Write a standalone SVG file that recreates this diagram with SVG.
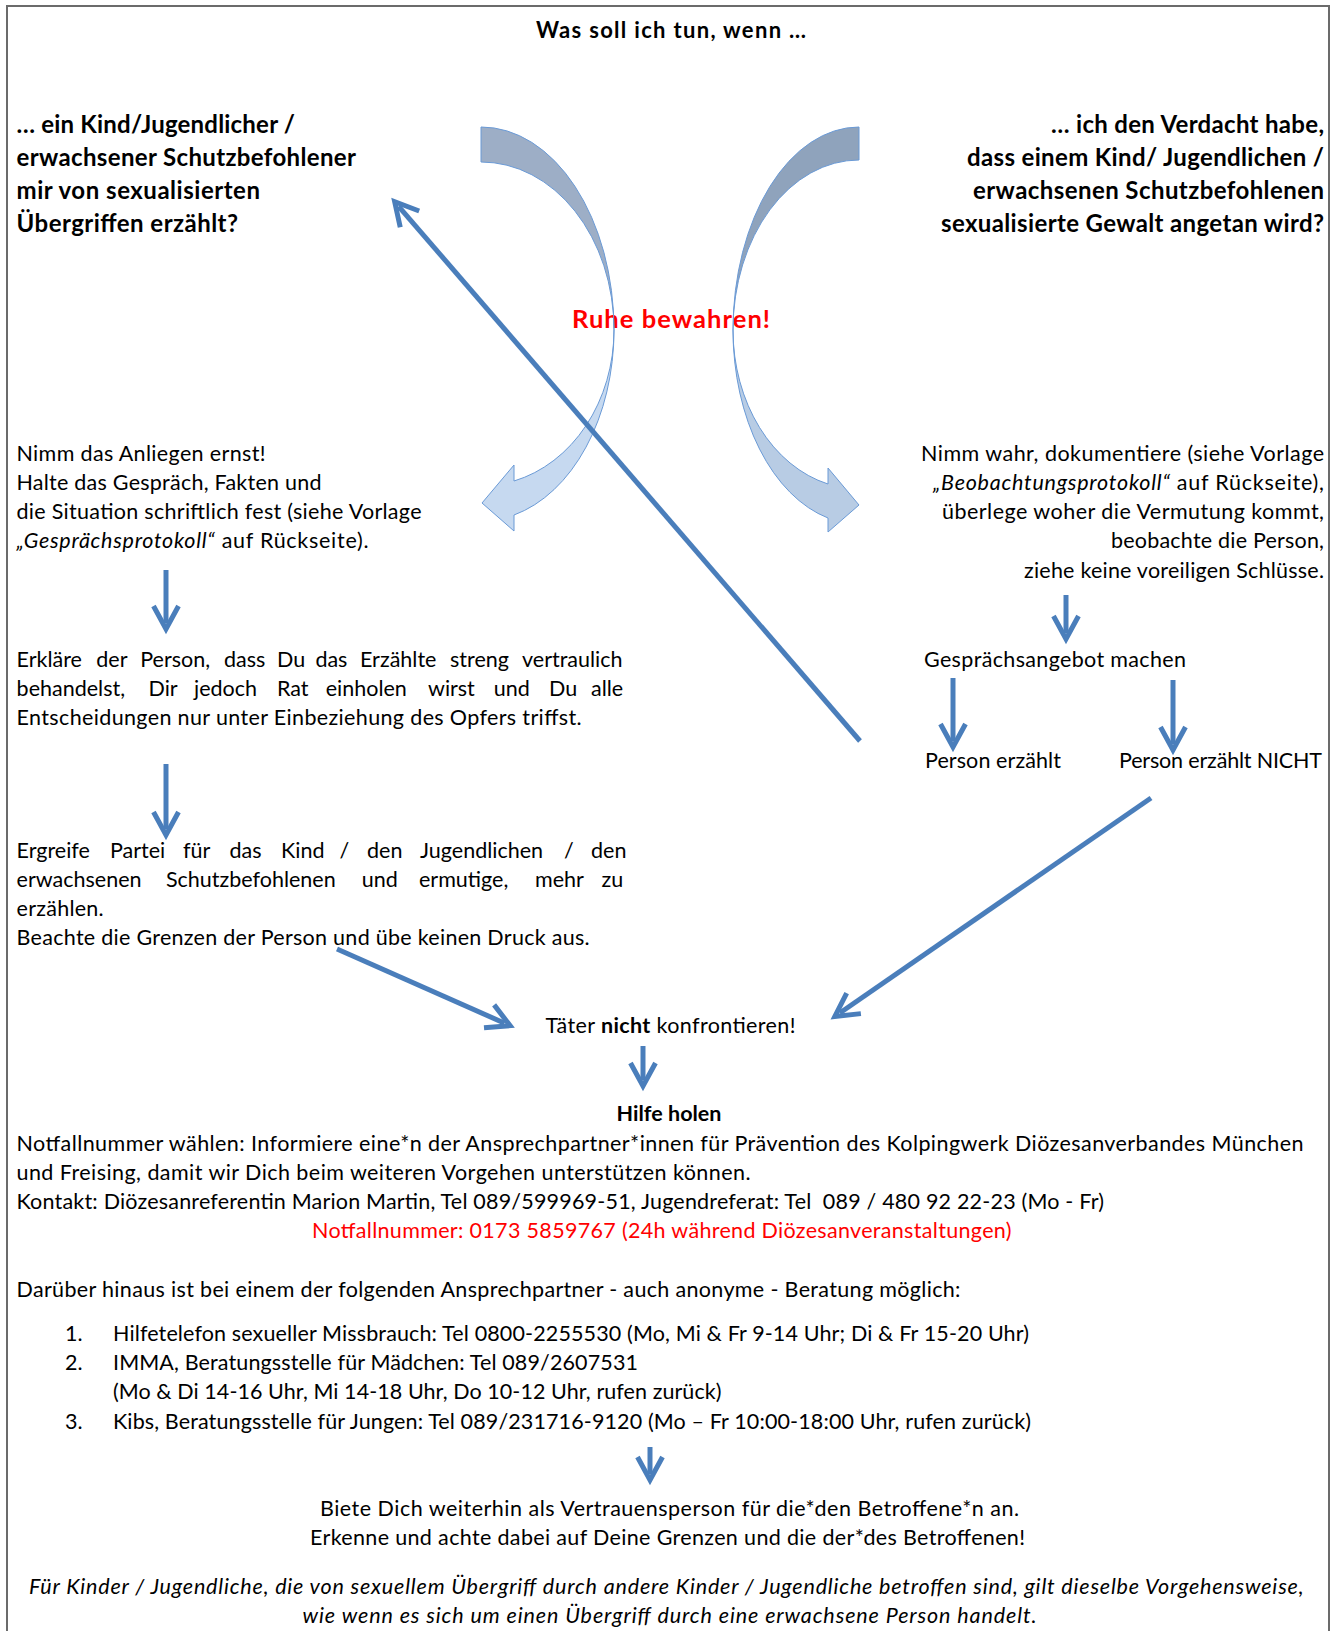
<svg xmlns="http://www.w3.org/2000/svg" width="1335" height="1631" viewBox="0 0 1335 1631">
<defs>
<style>
text{font-family:Lato,"Liberation Sans",sans-serif;font-size:21.5px;fill:#000}
.h{font-weight:700;font-size:24px}
.ti{font-weight:700;font-size:22px}
.bd{font-weight:700}
.red{fill:#FF0000}
.ruhe{font-weight:700;font-size:25.5px;fill:#FF0000}
.i{font-style:italic}
.con{stroke:#4A7EBB;stroke-width:5;fill:none;marker-end:url(#ah)}
.cuL1{fill:#9DAEC6;stroke:#6A9AD6;stroke-width:1}
.cuL2{fill:#C6D9F0;stroke:#6A9AD6;stroke-width:1}
.cuR1{fill:#8FA3BC;stroke:#6A9AD6;stroke-width:1}
.cuR2{fill:#B8CCE4;stroke:#6A9AD6;stroke-width:1}
</style>
<marker id="ah" markerUnits="userSpaceOnUse" viewBox="-30 -16 40 32" markerWidth="40" markerHeight="32" refX="-6" refY="0" orient="auto" style="overflow:visible">
<path d="M-23,-12.5 L0,0 L-23,12.5" fill="none" stroke="#4A7EBB" stroke-width="5"/>
</marker>
</defs>
<rect x="7" y="6" width="1322" height="1660" fill="#fff" stroke="#6b6b6b" stroke-width="2"/>

<g id="title"><text class="ti" x="536" y="38" textLength="270">Was soll ich tun, wenn …</text></g>

<g id="q-left">
<text class="h" x="16.5" y="133" textLength="278.5">… ein Kind/Jugendlicher /</text>
<text class="h" x="16.5" y="166" textLength="339.5">erwachsener Schutzbefohlener</text>
<text class="h" x="16.5" y="199" textLength="243.5">mir von sexualisierten</text>
<text class="h" x="16.5" y="232" textLength="221.5">Übergriffen erzählt?</text>
</g>

<g id="q-right">
<text class="h" x="1051" y="133" textLength="273">… ich den Verdacht habe,</text>
<text class="h" x="967" y="166" textLength="357">dass einem Kind/ Jugendlichen /</text>
<text class="h" x="973" y="199" textLength="351">erwachsenen Schutzbefohlenen</text>
<text class="h" x="941" y="232" textLength="383">sexualisierte Gewalt angetan wird?</text>
</g>

<g id="ruhe"><text class="ruhe" x="572" y="328" textLength="198">Ruhe bewahren!</text></g>

<g id="curved-arrows">
<path class="cuL1" d="M481,127 A133,203 0 0 1 614,330 A133,168 0 0 0 481,162 Z"/>
<path class="cuL2" d="M614,330 A133,191 0 0 1 514,515 L514,531 L482,503 L514,465 L514,481 A133,156 0 0 0 614,330 Z"/>
<path class="cuR1" d="M859,127 A126,203 0 0 0 733,330 A126,170 0 0 1 859,160 Z"/>
<path class="cuR2" d="M733,330 A126,194 0 0 0 828,518 L828,532 L859,505 L828,468 L828,484 A126,159 0 0 1 733,330 Z"/>
</g>

<g id="left-1">
<text x="16.5" y="461" textLength="249">Nimm das Anliegen ernst!</text>
<text x="16.5" y="490" textLength="305">Halte das Gespräch, Fakten und</text>
<text x="16.5" y="519" textLength="405">die Situation schriftlich fest (siehe Vorlage</text>
<text x="16.5" y="548" textLength="352"><tspan class="i">„Gesprächsprotokoll“</tspan> auf Rückseite).</text>
</g>

<g id="right-1">
<text x="921" y="461" textLength="403">Nimm wahr, dokumentiere (siehe Vorlage</text>
<text x="933" y="490" textLength="391"><tspan class="i">„Beobachtungsprotokoll“</tspan> auf Rückseite),</text>
<text x="942" y="519" textLength="382">überlege woher die Vermutung kommt,</text>
<text x="1111" y="548" textLength="213">beobachte die Person,</text>
<text x="1024" y="578" textLength="300">ziehe keine voreiligen Schlüsse.</text>
</g>

<g id="left-2">
<text y="667"><tspan x="16.6">Erkläre</tspan><tspan x="96.3">der</tspan><tspan x="140.2">Person,</tspan><tspan x="224">dass</tspan><tspan x="277">Du</tspan><tspan x="315.4">das</tspan><tspan x="360">Erzählte</tspan><tspan x="450">streng</tspan><tspan x="522">vertraulich</tspan></text>
<text y="696"><tspan x="16.6">behandelst,</tspan><tspan x="148.5">Dir</tspan><tspan x="194">jedoch</tspan><tspan x="277">Rat</tspan><tspan x="325.7">einholen</tspan><tspan x="428">wirst</tspan><tspan x="493.8">und</tspan><tspan x="549">Du</tspan><tspan x="591">alle</tspan></text>
<text x="16.6" y="725" textLength="565">Entscheidungen nur unter Einbeziehung des Opfers triffst.</text>
</g>

<g id="left-3">
<text y="858"><tspan x="16.6">Ergreife</tspan><tspan x="110">Partei</tspan><tspan x="183">für</tspan><tspan x="229.5">das</tspan><tspan x="281">Kind</tspan><tspan x="339.4">/</tspan><tspan x="367">den</tspan><tspan x="420">Jugendlichen</tspan><tspan x="564">/</tspan><tspan x="591">den</tspan></text>
<text y="887"><tspan x="16.6">erwachsenen</tspan><tspan x="166">Schutzbefohlenen</tspan><tspan x="361.8">und</tspan><tspan x="419">ermutige,</tspan><tspan x="535">mehr</tspan><tspan x="601.6">zu</tspan></text>
<text x="16.6" y="916" textLength="87">erzählen.</text>
<text x="16.6" y="945" textLength="573">Beachte die Grenzen der Person und übe keinen Druck aus.</text>
</g>

<g id="angebot"><text x="924" y="667" textLength="262">Gesprächsangebot machen</text></g>
<g id="erzaehlt"><text x="925" y="768" textLength="136">Person erzählt</text></g>
<g id="nicht-erzaehlt"><text x="1119" y="768" textLength="203">Person erzählt NICHT</text></g>

<g id="taeter"><text x="545.5" y="1033" textLength="250">Täter <tspan class="bd">nicht</tspan> konfrontieren!</text></g>

<g id="hilfe">
<text class="bd" x="616.5" y="1121" textLength="105">Hilfe holen</text>
<text x="16.5" y="1151" textLength="1287">Notfallnummer wählen: Informiere eine*n der Ansprechpartner*innen für Prävention des Kolpingwerk Diözesanverbandes München</text>
<text x="16.5" y="1180" textLength="734">und Freising, damit wir Dich beim weiteren Vorgehen unterstützen können.</text>
<text x="16.5" y="1209" textLength="1087.5" xml:space="preserve">Kontakt: Diözesanreferentin Marion Martin, Tel 089/599969-51, Jugendreferat: Tel  089 / 480 92 22-23 (Mo - Fr)</text>
<text class="red" x="312" y="1238" textLength="699.5">Notfallnummer: 0173 5859767 (24h während Diözesanveranstaltungen)</text>
</g>

<g id="beratung">
<text x="16.5" y="1297" textLength="944">Darüber hinaus ist bei einem der folgenden Ansprechpartner - auch anonyme - Beratung möglich:</text>
<text x="65" y="1341">1.</text>
<text x="113" y="1341" textLength="916">Hilfetelefon sexueller Missbrauch: Tel 0800-2255530 (Mo, Mi &amp; Fr 9-14 Uhr; Di &amp; Fr 15-20 Uhr)</text>
<text x="65" y="1370">2.</text>
<text x="113" y="1370" textLength="525">IMMA, Beratungsstelle für Mädchen: Tel 089/2607531</text>
<text x="113" y="1399" textLength="608.5">(Mo &amp; Di 14-16 Uhr, Mi 14-18 Uhr, Do 10-12 Uhr, rufen zurück)</text>
<text x="65" y="1429">3.</text>
<text x="113" y="1429" textLength="918">Kibs, Beratungsstelle für Jungen: Tel 089/231716-9120 (Mo – Fr 10:00-18:00 Uhr, rufen zurück)</text>
</g>

<g id="vertrauen">
<text x="320" y="1516" textLength="699">Biete Dich weiterhin als Vertrauensperson für die*den Betroffene*n an.</text>
<text x="310" y="1545" textLength="715">Erkenne und achte dabei auf Deine Grenzen und die der*des Betroffenen!</text>
</g>

<g id="hinweis">
<text class="i" x="29" y="1594" textLength="1274.5">Für Kinder / Jugendliche, die von sexuellem Übergriff durch andere Kinder / Jugendliche betroffen sind, gilt dieselbe Vorgehensweise,</text>
<text class="i" x="302.5" y="1623" textLength="734">wie wenn es sich um einen Übergriff durch eine erwachsene Person handelt.</text>
</g>

<g id="connectors">
<path class="con" d="M166,570 V623"/>
<path class="con" d="M166,764 V829"/>
<path class="con" d="M643,1046 V1080"/>
<path class="con" d="M1066,595 V633"/>
<path class="con" d="M953,678 V741"/>
<path class="con" d="M1173,680 V744"/>
<path class="con" d="M650,1447 V1474"/>
<path class="con" d="M860,741 L398.6,206.3"/>
<path class="con" d="M337,949 L504.6,1023.2"/>
<path class="con" d="M1151,798 L839.8,1013"/>
</g>
</svg>
